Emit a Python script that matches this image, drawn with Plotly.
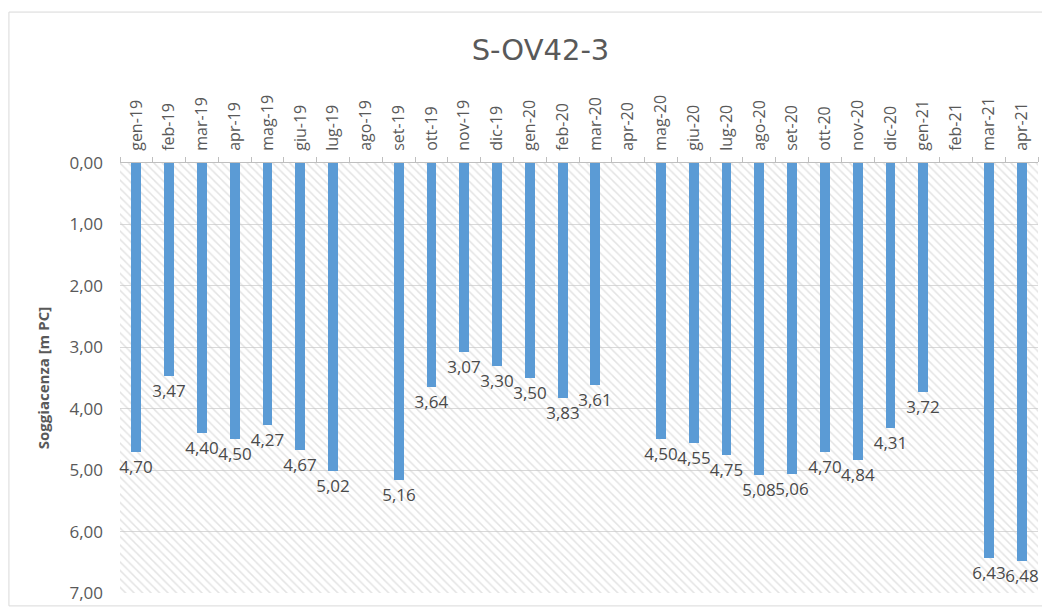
import plotly.graph_objects as go

months = ["gen-19", "feb-19", "mar-19", "apr-19", "mag-19", "giu-19", "lug-19", "ago-19",
          "set-19", "ott-19", "nov-19", "dic-19", "gen-20", "feb-20", "mar-20", "apr-20",
          "mag-20", "giu-20", "lug-20", "ago-20", "set-20", "ott-20", "nov-20", "dic-20",
          "gen-21", "feb-21", "mar-21", "apr-21"]
soggiacenza = [4.70, 3.47, 4.40, 4.50, 4.27, 4.67, 5.02, None,
               5.16, 3.64, 3.07, 3.30, 3.50, 3.83, 3.61, None,
               4.50, 4.55, 4.75, 5.08, 5.06, 4.70, 4.84, 4.31,
               3.72, None, 6.43, 6.48]
y_ticks = [0, 1, 2, 3, 4, 5, 6, 7]

labels = ["" if v is None else f"{v:.2f}".replace(".", ",") for v in soggiacenza]

fig = go.Figure()

# hatched plot background (on the hidden base axis, below the data bars)
fig.add_trace(go.Bar(
    x=[0.5], y=[max(y_ticks)], base=0, width=1,
    xaxis="x", yaxis="y",
    marker=dict(color="rgba(0,0,0,0)", line=dict(width=0),
                pattern=dict(shape="\\", fgcolor="#c8c8c8", bgcolor="rgba(0,0,0,0)",
                             size=6, solidity=0.25)),
    hoverinfo="skip", showlegend=False,
))

fig.add_trace(go.Bar(
    x=months, y=soggiacenza,
    xaxis="x2", yaxis="y",
    width=0.3,
    marker=dict(color="#5b9bd5", line=dict(width=0)),
    text=labels, textposition="outside", cliponaxis=False, constraintext="none",
    textfont=dict(size=17, color="#4a4a4a", family="Open Sans, sans-serif"),
    showlegend=False,
))

# the page body adds an 8px offset, so the figure is sized to fit inside it
fig.update_layout(
    width=1034, height=599,
    margin=dict(l=112, r=4, t=155, b=14),
    paper_bgcolor="white", plot_bgcolor="white",
    separators=",.",
    font=dict(family="Open Sans, sans-serif", color="#595959"),
    title=dict(text="S-OV42-3", x=0.515, xanchor="center", y=0.93, yanchor="middle",
               font=dict(size=29, family="DejaVu Sans, sans-serif", color="#595959")),
    xaxis=dict(range=[0, 1], visible=False, fixedrange=True),
    xaxis2=dict(overlaying="x", side="top", type="category",
                tickangle=-90, tickfont=dict(size=16, color="#595959"),
                showline=True, linecolor="#bfbfbf", linewidth=1,
                ticks="outside", tickson="boundaries", ticklen=5, tickcolor="#bfbfbf",
                ticklabelstandoff=8, showgrid=False, anchor="y"),
    yaxis=dict(range=[max(y_ticks), 0], tickvals=y_ticks, tickformat=".2f",
               tickfont=dict(size=17, color="#595959"),
               showgrid=True, gridcolor="#d9d9d9", zeroline=False, showline=False,
               ticks="", ticklabelstandoff=16,
               title=dict(text="<b>Soggiacenza [m PC]</b>", standoff=16,
                          font=dict(size=15, color="#595959"))),
    bargap=0, barmode="overlay",
    shapes=[dict(type="rect", xref="paper", yref="paper",
                 x0=-0.121, x1=1.02, y0=-0.03, y1=1.351,
                 line=dict(color="#d9d9d9", width=1), layer="below")],
)

fig.write_html("out.html")
